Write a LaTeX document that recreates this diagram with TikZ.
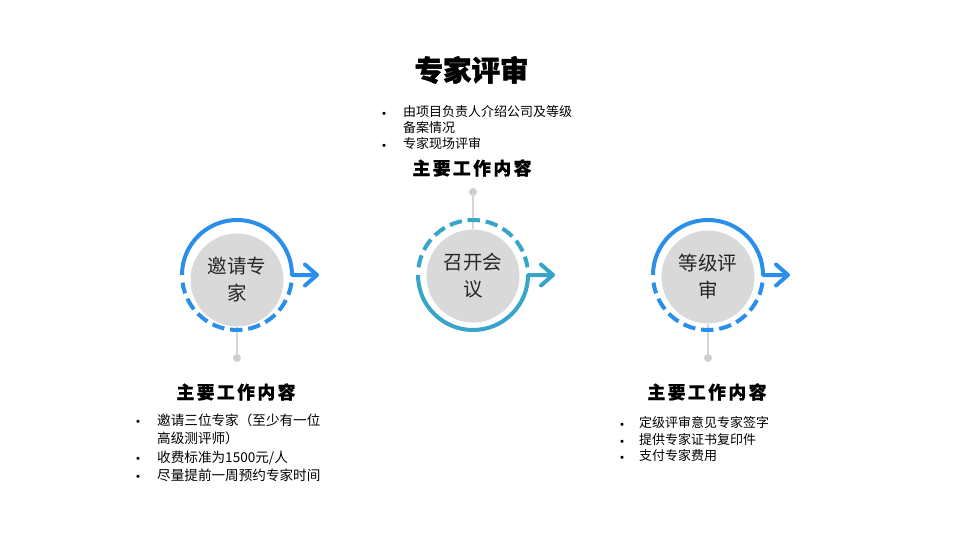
\documentclass[tikz,border=0pt]{standalone}
\usepackage{fontspec}
\setmainfont{Noto Sans CJK SC}
\definecolor{ringblue}{HTML}{2A8FEB}
\definecolor{ringteal}{HTML}{36A5C9}
\definecolor{coregray}{HTML}{D9D9D9}
\definecolor{stemgray}{HTML}{D6D6D6}
\definecolor{dotgray}{HTML}{CFCFCF}
\definecolor{coretext}{HTML}{262626}
\newcommand\hsgap{\hspace{2.4pt}}
\begin{document}
\begin{tikzpicture}[x=1pt,y=-1pt,
  solidring/.style={line width=4pt, line join=round},
  dashring/.style={line width=4pt, dash pattern=on 12.5pt off 5.8pt},
  arrowline/.style={line width=4pt, line cap=round, line join=round},
  core/.style={circle, fill=coregray, minimum size=93pt, inner sep=0pt, align=center, text=coretext, font=\fontsize{19.5}{27}\selectfont},
  stem/.style={draw=stemgray, line width=2pt},
  stemdot/.style={circle, fill=dotgray, minimum size=8pt, inner sep=0pt},
  heading/.style={font=\fontsize{17.8}{20}\selectfont\bfseries\addfontfeature{FakeBold=0.6}, inner sep=0pt},
  titletext/.style={font=\fontsize{28.5}{34}\selectfont\bfseries\addfontfeature{FakeBold=1.4}, inner sep=0pt},
  bulletmark/.style={font=\fontsize{15}{16}\selectfont, inner sep=0pt},
  itemtext/.style={anchor=base west, inner sep=0pt, font=\fontsize{13}{16}\selectfont},
  itembig/.style={anchor=base west, inner sep=0pt, font=\fontsize{13.6}{18}\selectfont},
]
\useasboundingbox (0,0) rectangle (960,540);

% title
\node[titletext] (title) at (471.5,70) {专家评审};

% ---------- circle 1 ----------
\coordinate (r1) at (237,275);
\node[core] (c1) at (237,280) {邀请专\\家};
\node[stemdot] (d1) at (237,358) {};
\draw[stem] (c1.south) -- (d1.north);
\coordinate (t1) at (317,275);
\draw[solidring, draw=ringblue] ([shift={(180:55)}]r1) arc[start angle=180, end angle=360, radius=55] -- (t1);
\draw[arrowline, draw=ringblue] (t1) ++(-12,-10.5) -- (t1) -- ++(-12,10.5);
\draw[dashring, draw=ringblue] ([shift={(8:55)}]r1) arc[start angle=8, end angle=172, radius=55];

% ---------- circle 2 ----------
\coordinate (r2) at (473,275);
\node[core] (c2) at (473,276) {召开会\\议};
\node[stemdot] (d2) at (473,192) {};
\draw[stem] (c2.north) -- (d2.south);
\coordinate (t2) at (553,275);
\draw[solidring, draw=ringteal] ([shift={(180:55)}]r2) arc[start angle=180, end angle=0, radius=55] -- (t2);
\draw[arrowline, draw=ringteal] (t2) ++(-12,-10.5) -- (t2) -- ++(-12,10.5);
\draw[dashring, draw=ringteal] ([shift={(188:55)}]r2) arc[start angle=188, end angle=352, radius=55];

% ---------- circle 3 ----------
\coordinate (r3) at (708,275);
\node[core] (c3) at (708,277) {等级评\\审};
\node[stemdot] (d3) at (708,358) {};
\draw[stem] (c3.south) -- (d3.north);
\coordinate (t3) at (788,275);
\draw[solidring, draw=ringblue] ([shift={(180:55)}]r3) arc[start angle=180, end angle=360, radius=55] -- (t3);
\draw[arrowline, draw=ringblue] (t3) ++(-12,-10.5) -- (t3) -- ++(-12,10.5);
\draw[dashring, draw=ringblue] ([shift={(8:55)}]r3) arc[start angle=8, end angle=172, radius=55];

% headings
\node[heading] (h2) at (472,168) {主\hsgap{}要\hsgap{}工\hsgap{}作\hsgap{}内\hsgap{}容};
\node[heading] (h1) at (236,392) {主\hsgap{}要\hsgap{}工\hsgap{}作\hsgap{}内\hsgap{}容};
\node[heading] (h3) at (707,392) {主\hsgap{}要\hsgap{}工\hsgap{}作\hsgap{}内\hsgap{}容};

% top list
\node[bulletmark] (tb1) at (384,116) {•};
\node[itemtext] (tt1) at (403,116.7) {由项目负责人介绍公司及等级};
\node[itemtext] (tt2) at (403,132.3) {备案情况};
\node[bulletmark] (tb2) at (384,147.5) {•};
\node[itemtext] (tt3) at (403,148.3) {专家现场评审};

% left list
\node[bulletmark] (lb1) at (138,424) {•};
\node[itembig] (lt1) at (157,425.1) {邀请三位专家（至少有一位};
\node[itembig] (lt2) at (157,443.1) {高级测评师）};
\node[bulletmark] (lb2) at (138,461) {•};
\node[itembig] (lt3) at (157,462.1) {收费标准为1500元/人};
\node[bulletmark] (lb3) at (138,479) {•};
\node[itembig] (lt4) at (157,480.1) {尽量提前一周预约专家时间};

% right list
\node[bulletmark] (rb1) at (622,427) {•};
\node[itemtext] (rt1) at (639,427.9) {定级评审意见专家签字};
\node[bulletmark] (rb2) at (622,444) {•};
\node[itemtext] (rt2) at (639,444.9) {提供专家证书复印件};
\node[bulletmark] (rb3) at (622,459.5) {•};
\node[itemtext] (rt3) at (639,460.4) {支付专家费用};
\end{tikzpicture}
\end{document}
